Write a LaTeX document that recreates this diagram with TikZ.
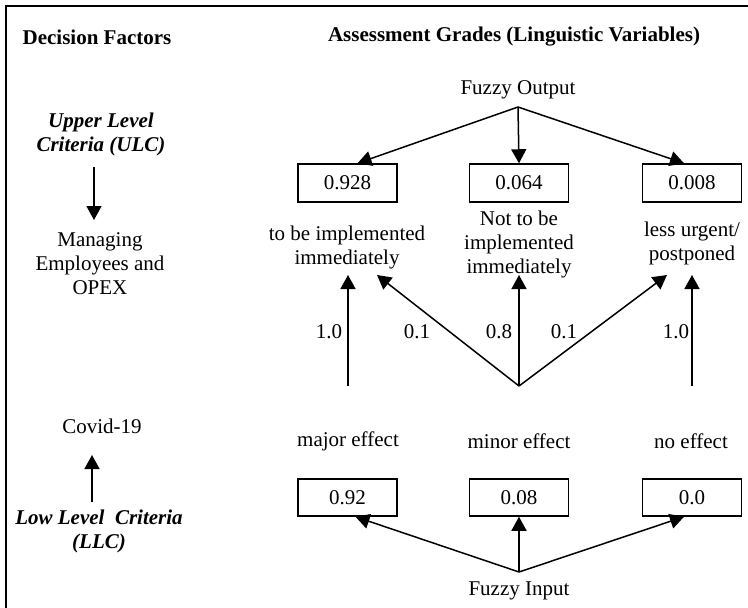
\documentclass[tikz,border=0pt]{standalone}
\usepackage{fontspec}
\setmainfont{Liberation Serif}
\usetikzlibrary{arrows.meta}
\begin{document}
\begin{tikzpicture}[x=1pt,y=-1pt,
  every node/.style={font=\fontsize{21}{24}\selectfont, align=center, inner sep=0pt},
  val/.style={draw, line width=1.5pt, minimum width=99pt, minimum height=38pt},
  arr/.style={line width=1.5pt, -{Triangle[width=15pt,length=14pt]}},
  hd/.style={font=\fontsize{21}{24}\selectfont\bfseries},
  crit/.style={font=\fontsize{21}{24}\selectfont\bfseries\itshape}]
\useasboundingbox (0,0) rectangle (748,608);
\draw[line width=2pt] (6,608) -- (6,6) -- (748,6);

% headings
\node[hd] (hdf) at (97,37) {Decision Factors};
\node[hd] (hag) at (514,37) {Assessment Grades (Linguistic Variables)};

% left column
\node[crit] (ulc) at (101,134) {Upper Level\\Criteria (ULC)};
\coordinate (ulcA) at (94,167);
\coordinate (ulcB) at (94,220);
\draw[arr] (ulcA) -- (ulcB);
\node (mng) at (100,264) {Managing\\Employees and\\OPEX};

\node (cov) at (102,426) {Covid-19};
\coordinate (llcA) at (92,502);
\coordinate (llcB) at (92,455);
\draw[arr] (llcA) -- (llcB);
\node[crit] (llc) at (99,531) {Low Level\ \ Criteria\\(LLC)};

% fuzzy output
\node (fo) at (518,90) {Fuzzy Output};
\coordinate (fos) at (518,107);
\node[val] (b1) at (347.5,183) {0.928};
\node[val] (b2) at (519,183) {0.064};
\node[val] (b3) at (692,183) {0.008};
\draw[arr] (fos) -- ([xshift=10pt]b1.north);
\draw[arr] (fos) -- (b2.north);
\draw[arr] (fos) -- ([xshift=-8pt]b3.north);

\node (g1) at (347,247) {to be implemented\\immediately};
\node (g2) at (519,244) {Not to be\\implemented\\immediately};
\node (g3) at (692,243) {less urgent/\\postponed};

% links from effects to grades
\coordinate (s1) at (348,386);
\coordinate (s2) at (519,386);
\coordinate (s3) at (692,386);
\coordinate (t1a) at (348,275);
\coordinate (t1b) at (377,275);
\coordinate (t2) at (519,275);
\coordinate (t3a) at (667,275);
\coordinate (t3b) at (692,275);
\draw[arr] (s1) -- (t1a);
\draw[arr] (s2) -- (t1b);
\draw[arr] (s2) -- (t2);
\draw[arr] (s2) -- (t3a);
\draw[arr] (s3) -- (t3b);
\node (w1) at (329,332) {1.0};
\node (w2) at (417,332) {0.1};
\node (w3) at (499,332) {0.8};
\node (w4) at (564,332) {0.1};
\node (w5) at (676,332) {1.0};

% effects
\node (e1) at (348,441) {major effect};
\node (e2) at (519,441) {minor effect};
\node (e3) at (691,441) {no effect};
\node[val, minimum height=37pt] (c1) at (347.5,497.5) {0.92};
\node[val, minimum height=37pt] (c2) at (519,497.5) {0.08};
\node[val, minimum height=37pt] (c3) at (692,497.5) {0.0};

\node (fi) at (519,591) {Fuzzy Input};
\coordinate (fis) at (519,572);
\draw[arr] (fis) -- ([xshift=8pt]c1.south);
\draw[arr] (fis) -- (c2.south);
\draw[arr] (fis) -- ([xshift=-8pt]c3.south);
\end{tikzpicture}
\end{document}
